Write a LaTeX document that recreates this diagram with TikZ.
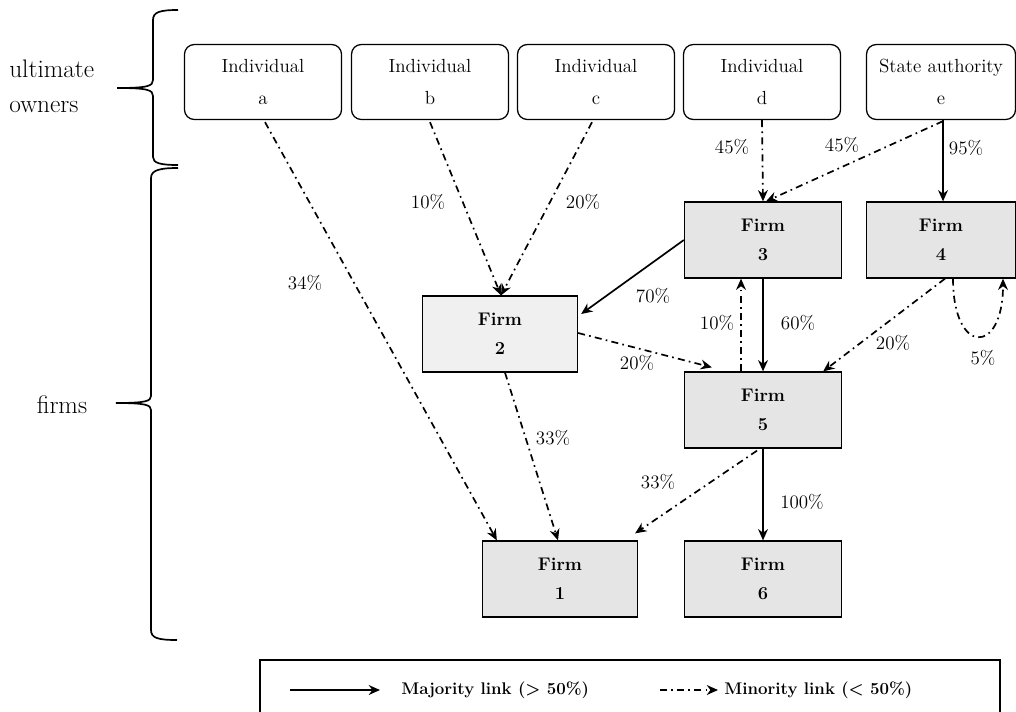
\documentclass[tikz,border=0pt]{standalone}
\usetikzlibrary{arrows.meta,calc}
\begin{document}
\begin{tikzpicture}[x=0.025cm,y=-0.025cm,
    owner/.style={draw,line width=0.9pt,rounded corners=7pt,minimum width=3.925cm,minimum height=1.875cm,
      inner sep=0pt,align=center,font=\fontsize{13.5}{22.7}\selectfont},
    firm/.style={draw,line width=0.9pt,fill=gray!20,minimum width=3.925cm,minimum height=1.9cm,
      inner sep=0pt,align=center,font=\fontsize{13}{20.5}\selectfont\bfseries},
    major/.style={line width=1.2pt,-{Stealth[length=8pt,width=7pt]}},
    minor/.style={major,dash pattern=on 5pt off 3pt on 1.2pt off 3pt},
    pct/.style={font=\fontsize{13.5}{15}\selectfont,inner sep=1pt},
    side/.style={font=\fontsize{18}{25}\selectfont,align=left,inner sep=0pt},
    legend/.style={font=\fontsize{12}{14}\selectfont\bfseries,inner sep=0pt}]
  \useasboundingbox (0,0) rectangle (1016,711);
  % braces
  \draw[line width=1.2pt] (178,10) .. controls (160,10) and (153,12) .. (153,20) -- (153,80)
    .. controls (153,86) and (148,88) .. (117,88) .. controls (148,88) and (153,90) .. (153,96)
    -- (153,157) .. controls (153,163) and (160,165) .. (178,165);
  \draw[line width=1.2pt] (178,168) .. controls (160,168) and (151,170) .. (151,178) -- (151,396)
    .. controls (151,401) and (146,403) .. (116,403) .. controls (146,403) and (151,405) .. (151,410)
    -- (151,630) .. controls (151,638) and (158,640) .. (177,640);
  \node[side,anchor=west] (ult) at (9,86) {ultimate\\owners};
  \node[side] (frm) at (62,405) {firms};
  % ultimate owners
  \node[owner] (a) at (263,82) {Individual\\a};
  \node[owner] (b) at (430,82) {Individual\\b};
  \node[owner] (c) at (596,82) {Individual\\c};
  \node[owner] (d) at (762,82) {Individual\\d};
  \node[owner,minimum width=3.725cm] (e) at (941,82) {State authority\\e};
  % firms
  \node[firm] (F3) at (763,240) {Firm\\3};
  \node[firm,minimum width=3.725cm] (F4) at (941,240) {Firm\\4};
  \node[firm,fill=gray!12,minimum width=3.875cm] (F2) at (500,334) {Firm\\2};
  \node[firm] (F5) at (763,410) {Firm\\5};
  \node[firm,minimum width=3.875cm] (F1) at (560,579) {Firm\\1};
  \node[firm] (F6) at (763,579) {Firm\\6};
  % links
  \draw[minor] ($(a.south)+(2,2)$) -- ($(F1.north west)+(15,0)$);
  \draw[minor] ($(b.south)+(0,2)$) -- ($(F2.north)+(1,0)$);
  \draw[minor] ($(c.south)+(-4,2)$) -- ($(F2.north)+(1,0)$);
  \draw[minor] (d.south) -- (F3.north);
  \draw[minor] ($(e.south)+(2,1)$) -- ($(F3.north)+(3,0)$);
  \draw[major] ($(e.south)+(2,0)$) -- ($(F4.north)+(2,0)$);
  \draw[major] (F3.west) -- ($(F2.east)+(3,-20)$);
  \draw[major] (F3.south) -- (F5.north);
  \draw[minor] ($(F5.north)+(-22,0)$) -- ($(F3.south)+(-22,0)$);
  \draw[minor] ($(F2.east)+(0,-1)$) -- ($(F5.north west)+(28,-4)$);
  \draw[minor] ($(F4.south)+(4,0)$) -- ($(F5.north east)+(-19,0)$);
  \draw[minor] ($(F4.south)+(12,0)$) .. controls ($(F4.south)+(12,77)$) and ($(F4.south)+(62,77)$) .. ($(F4.south)+(62,0)$);
  \draw[minor] ($(F2.south)+(5,0)$) -- ($(F1.north)+(-2,0)$);
  \draw[minor] ($(F5.south)+(-6,2)$) -- ($(F1.north east)+(-3,-7)$);
  \draw[major] (F5.south) -- (F6.north);
  % shares
  \node[pct] (p34) at (305,283) {34\%};
  \node[pct] (p10b) at (428,202) {10\%};
  \node[pct] (p20c) at (583,202) {20\%};
  \node[pct] (p45d) at (732,147) {45\%};
  \node[pct] (p45e) at (842,145) {45\%};
  \node[pct] (p95) at (966,148) {95\%};
  \node[pct] (p70) at (653,296) {70\%};
  \node[pct] (p60) at (798,323) {60\%};
  \node[pct] (p10) at (717,323) {10\%};
  \node[pct] (p20a) at (637,363) {20\%};
  \node[pct] (p20b) at (893,343) {20\%};
  \node[pct] (p5) at (983,358) {5\%};
  \node[pct] (p33a) at (553,438) {33\%};
  \node[pct] (p33b) at (658,482) {33\%};
  \node[pct] (p100) at (802,502) {100\%};
  % legend
  \draw[line width=0.9pt] (260,715) -- (260,660) -- (1000,660) -- (1000,715);
  \coordinate (mj0) at (290,690);
  \coordinate (mj1) at (380,690);
  \draw[major] (mj0) -- (mj1);
  \node[legend,anchor=west] (mjtext) at (401,690) {Majority link (> 50\%)};
  \coordinate (mn0) at (660,690);
  \coordinate (mn1) at (718,690);
  \draw[minor] (mn0) -- (mn1);
  \node[legend,anchor=west] (mntext) at (724,690) {Minority link (< 50\%)};
\end{tikzpicture}
\end{document}
